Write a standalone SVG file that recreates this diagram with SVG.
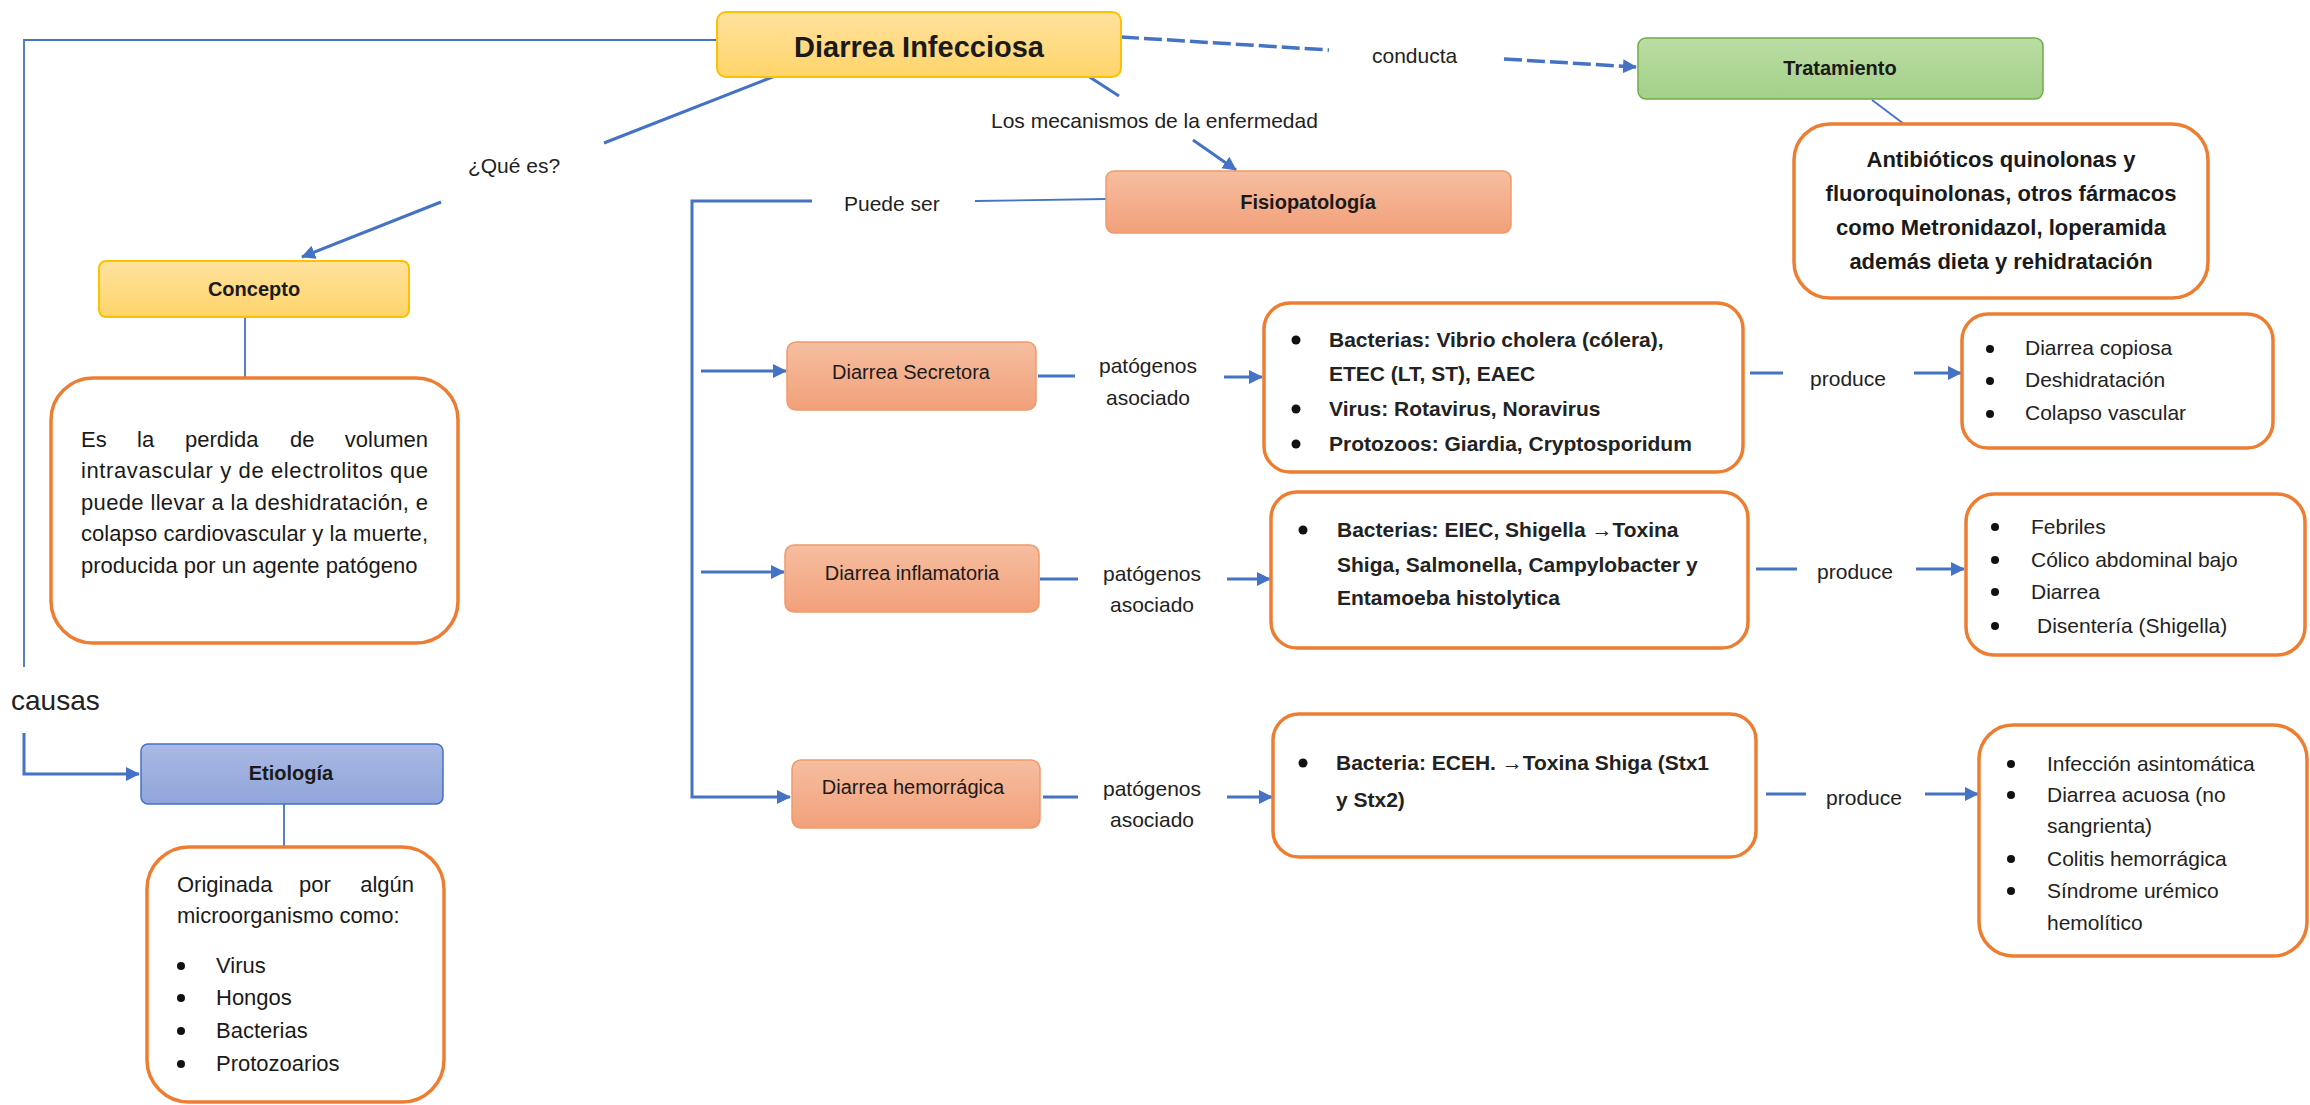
<svg xmlns="http://www.w3.org/2000/svg" width="2310" height="1105" viewBox="0 0 2310 1105">
<defs>
<linearGradient id="gYel" x1="0" y1="0" x2="0" y2="1"><stop offset="0" stop-color="#FFE29E"/><stop offset="1" stop-color="#FFD46A"/></linearGradient>
<linearGradient id="gOr" x1="0" y1="0" x2="0" y2="1"><stop offset="0" stop-color="#F6BEA0"/><stop offset="1" stop-color="#F2A07A"/></linearGradient>
<linearGradient id="gGr" x1="0" y1="0" x2="0" y2="1"><stop offset="0" stop-color="#BADDA3"/><stop offset="1" stop-color="#A3D089"/></linearGradient>
<linearGradient id="gBl" x1="0" y1="0" x2="0" y2="1"><stop offset="0" stop-color="#AAB9E4"/><stop offset="1" stop-color="#8FA5DA"/></linearGradient>
<marker id="arr" markerUnits="userSpaceOnUse" markerWidth="16" markerHeight="16" refX="13" refY="7" orient="auto">
<path d="M0,0 L14,7 L0,14 z" fill="#4472C4"/>
</marker>
</defs>
<style>
text{font-family:"Liberation Sans",Arial,sans-serif;fill:#1a1a1a}
.t{font-size:22px}
.b{font-weight:bold}
.c{text-anchor:middle}
.e{text-anchor:end}
.lbl{font-size:21px;fill:#222}
.info{font-size:21px;font-weight:bold;fill:#222}
.res{font-size:21px;fill:#222}
.con{fill:none;stroke:#4472C4;stroke-width:3}
.thin{fill:none;stroke:#4472C4;stroke-width:1.8}
.dash{fill:none;stroke:#4472C4;stroke-width:3.5;stroke-dasharray:18 5}
.box{fill:#fff;stroke:#ED7D31;stroke-width:3.5}
.or{fill:url(#gOr);stroke:#F09A6A;stroke-width:1.5}
.dot{fill:#111}
</style>

<g id="connectors">
<path class="thin" d="M717,40 H24 V667"/>
<path class="con" d="M24,733 V774 H139" marker-end="url(#arr)"/>
<path class="con" d="M775,76 L604,143"/>
<path class="con" d="M441,202 L302,257" marker-end="url(#arr)"/>
<path class="thin" d="M245,317 V380"/>
<path class="con" d="M1088,76 L1119,96"/>
<path class="con" d="M1193,140 L1236,170" marker-end="url(#arr)"/>
<path class="dash" d="M1121,37 L1329,50"/>
<path class="dash" d="M1504,59 L1636,67" marker-end="url(#arr)"/>
<path class="thin" d="M1872,100 L1904,124"/>
<path class="thin" d="M1106,199 L975,201"/>
<path class="con" d="M812,201 H692 V797 H790" marker-end="url(#arr)"/>
<path class="con" d="M701,371 H786" marker-end="url(#arr)"/>
<path class="con" d="M701,572 H784" marker-end="url(#arr)"/>
<path class="con" d="M1038,376 H1075"/>
<path class="con" d="M1224,377 H1262" marker-end="url(#arr)"/>
<path class="con" d="M1040,579 H1078"/>
<path class="con" d="M1227,579 H1270" marker-end="url(#arr)"/>
<path class="con" d="M1043,797 H1078"/>
<path class="con" d="M1227,797 H1272" marker-end="url(#arr)"/>
<path class="con" d="M1750,373 H1783"/>
<path class="con" d="M1914,373 H1961" marker-end="url(#arr)"/>
<path class="con" d="M1756,569 H1797"/>
<path class="con" d="M1916,569 H1964" marker-end="url(#arr)"/>
<path class="con" d="M1766,794 H1806"/>
<path class="con" d="M1925,794 H1978" marker-end="url(#arr)"/>
<path class="thin" d="M284,804 V847"/>
</g>

<g id="connector-labels">
<text class="lbl c" x="514" y="173" font-size="20">¿Qué es?</text>
<text class="lbl" x="991" y="128">Los mecanismos de la enfermedad</text>
<text class="lbl" x="1372" y="63">conducta</text>
<text class="lbl" x="844" y="211">Puede ser</text>
<text x="11" y="710" style="font-size:28px;fill:#222">causas</text>
<text class="lbl c" x="1148" y="373">patógenos</text>
<text class="lbl c" x="1148" y="405">asociado</text>
<text class="lbl c" x="1152" y="581">patógenos</text>
<text class="lbl c" x="1152" y="612">asociado</text>
<text class="lbl c" x="1152" y="796">patógenos</text>
<text class="lbl c" x="1152" y="827">asociado</text>
<text class="lbl c" x="1848" y="386">produce</text>
<text class="lbl c" x="1855" y="579">produce</text>
<text class="lbl c" x="1864" y="805">produce</text>
</g>

<g id="diarrea-infecciosa">
<rect x="717" y="12" width="404" height="65" rx="9" fill="url(#gYel)" stroke="#FFC000" stroke-width="2"/>
<text class="b c" x="919" y="57" style="font-size:29px">Diarrea Infecciosa</text>
</g>

<g id="concepto">
<rect x="99" y="261" width="310" height="56" rx="7" fill="url(#gYel)" stroke="#FFC000" stroke-width="2"/>
<text class="b c" x="254" y="296" style="font-size:20px">Concepto</text>
</g>

<g id="concepto-texto">
<rect class="box" x="51" y="378" width="407" height="265" rx="42"/>
<text class="t" x="81" y="447">Es</text>
<text class="t" x="137" y="447">la</text>
<text class="t" x="185" y="447">perdida</text>
<text class="t" x="290" y="447">de</text>
<text class="t e" x="428" y="447">volumen</text>
<text class="t" x="81" y="478" textLength="347" lengthAdjust="spacing">intravascular y de electrolitos que</text>
<text class="t" x="81" y="510" textLength="347" lengthAdjust="spacing">puede llevar a la deshidratación, e</text>
<text class="t" x="81" y="541" textLength="347" lengthAdjust="spacing">colapso cardiovascular y la muerte,</text>
<text class="t" x="81" y="573">producida por un agente patógeno</text>
</g>

<g id="etiologia">
<rect x="141" y="744" width="302" height="60" rx="7" fill="url(#gBl)" stroke="#4472C4" stroke-width="1.5"/>
<text class="b c" x="291" y="780" style="font-size:20px">Etiología</text>
</g>

<g id="etiologia-texto">
<rect class="box" x="147" y="847" width="297" height="255" rx="42"/>
<text class="t" x="177" y="892">Originada</text>
<text class="t c" x="315" y="892">por</text>
<text class="t e" x="414" y="892">algún</text>
<text class="t" x="177" y="923">microorganismo como:</text>
<circle class="dot" cx="181" cy="966" r="4"/>
<text class="t" x="216" y="973">Virus</text>
<circle class="dot" cx="181" cy="998" r="4"/>
<text class="t" x="216" y="1005">Hongos</text>
<circle class="dot" cx="181" cy="1031" r="4"/>
<text class="t" x="216" y="1038">Bacterias</text>
<circle class="dot" cx="181" cy="1064" r="4"/>
<text class="t" x="216" y="1071">Protozoarios</text>
</g>

<g id="tratamiento">
<rect x="1638" y="38" width="405" height="61" rx="8" fill="url(#gGr)" stroke="#70AD47" stroke-width="1.5"/>
<text class="b c" x="1840" y="75" style="font-size:20px">Tratamiento</text>
</g>

<g id="tratamiento-texto">
<rect class="box" x="1794" y="124" width="414" height="174" rx="36"/>
<text class="b c" x="2001" y="167" style="font-size:22px">Antibióticos quinolonas y</text>
<text class="b c" x="2001" y="201" style="font-size:22px">fluoroquinolonas, otros fármacos</text>
<text class="b c" x="2001" y="235" style="font-size:22px">como Metronidazol, loperamida</text>
<text class="b c" x="2001" y="269" style="font-size:22px">además dieta y rehidratación</text>
</g>

<g id="fisiopatologia">
<rect class="or" x="1106" y="171" width="405" height="62" rx="8"/>
<text class="b c" x="1308" y="209" style="font-size:20px">Fisiopatología</text>
</g>

<g id="diarrea-secretora">
<rect class="or" x="787" y="342" width="249" height="68" rx="9"/>
<text class="c" x="911" y="379" style="font-size:20px">Diarrea Secretora</text>
</g>

<g id="diarrea-inflamatoria">
<rect class="or" x="785" y="545" width="254" height="67" rx="9"/>
<text class="c" x="912" y="580" style="font-size:20px">Diarrea inflamatoria</text>
</g>

<g id="diarrea-hemorragica">
<rect class="or" x="792" y="760" width="248" height="68" rx="9"/>
<text class="c" x="913" y="794" style="font-size:20px">Diarrea hemorrágica</text>
</g>

<g id="patogenos-secretora">
<rect class="box" x="1264" y="303" width="479" height="169" rx="26"/>
<circle class="dot" cx="1296" cy="340" r="4.5"/>
<text class="info" x="1329" y="347">Bacterias: Vibrio cholera (cólera),</text>
<text class="info" x="1329" y="381">ETEC (LT, ST), EAEC</text>
<circle class="dot" cx="1296" cy="409" r="4.5"/>
<text class="info" x="1329" y="416">Virus: Rotavirus, Noravirus</text>
<circle class="dot" cx="1296" cy="444" r="4.5"/>
<text class="info" x="1329" y="451">Protozoos: Giardia, Cryptosporidum</text>
</g>

<g id="patogenos-inflamatoria">
<rect class="box" x="1271" y="492" width="477" height="156" rx="26"/>
<circle class="dot" cx="1303" cy="530" r="4.5"/>
<text class="info" x="1337" y="537">Bacterias: EIEC, Shigella →Toxina</text>
<text class="info" x="1337" y="572">Shiga, Salmonella, Campylobacter y</text>
<text class="info" x="1337" y="605">Entamoeba histolytica</text>
</g>

<g id="patogenos-hemorragica">
<rect class="box" x="1273" y="714" width="483" height="143" rx="26"/>
<circle class="dot" cx="1303" cy="763" r="4.5"/>
<text class="info" x="1336" y="770">Bacteria: ECEH. →Toxina Shiga (Stx1</text>
<text class="info" x="1336" y="807">y Stx2)</text>
</g>

<g id="efectos-secretora">
<rect class="box" x="1962" y="314" width="311" height="134" rx="26"/>
<circle class="dot" cx="1990" cy="349" r="4"/>
<text class="res" x="2025" y="355">Diarrea copiosa</text>
<circle class="dot" cx="1990" cy="381" r="4"/>
<text class="res" x="2025" y="387">Deshidratación</text>
<circle class="dot" cx="1990" cy="414" r="4"/>
<text class="res" x="2025" y="420">Colapso vascular</text>
</g>

<g id="efectos-inflamatoria">
<rect class="box" x="1966" y="494" width="339" height="161" rx="28"/>
<circle class="dot" cx="1995" cy="527" r="4"/>
<text class="res" x="2031" y="534">Febriles</text>
<circle class="dot" cx="1995" cy="560" r="4"/>
<text class="res" x="2031" y="567">Cólico abdominal bajo</text>
<circle class="dot" cx="1995" cy="592" r="4"/>
<text class="res" x="2031" y="599">Diarrea</text>
<circle class="dot" cx="1995" cy="626" r="4"/>
<text class="res" x="2037" y="633">Disentería (Shigella)</text>
</g>

<g id="efectos-hemorragica">
<rect class="box" x="1979" y="725" width="328" height="231" rx="34"/>
<circle class="dot" cx="2011" cy="764" r="4"/>
<text class="res" x="2047" y="771">Infección asintomática</text>
<circle class="dot" cx="2011" cy="795" r="4"/>
<text class="res" x="2047" y="802">Diarrea acuosa (no</text>
<text class="res" x="2047" y="833">sangrienta)</text>
<circle class="dot" cx="2011" cy="859" r="4"/>
<text class="res" x="2047" y="866">Colitis hemorrágica</text>
<circle class="dot" cx="2011" cy="891" r="4"/>
<text class="res" x="2047" y="898">Síndrome urémico</text>
<text class="res" x="2047" y="930">hemolítico</text>
</g>
</svg>
